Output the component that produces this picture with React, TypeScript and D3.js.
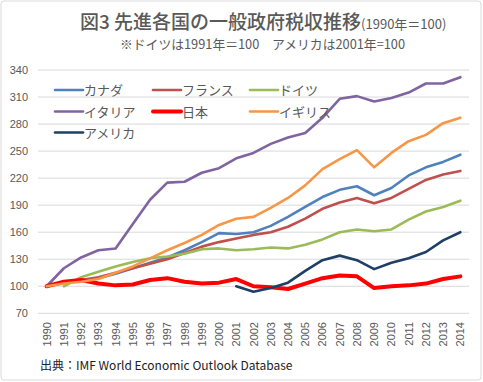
import React from "react";
import * as d3 from "d3";

const years = d3.range(1990, 2015).map(String);
const yTicks = [70, 100, 130, 160, 190, 220, 250, 280, 310, 340];

const canada = [100, 104, 106, 109, 114, 120, 126, 132, 140, 149, 159, 158, 160, 167, 177, 188, 199, 207, 211, 201, 209, 223, 232, 238, 246];
const france = [100, 105, 107, 110, 115, 120, 125, 130, 137, 144, 149, 153, 157, 160, 166, 175, 186, 193, 198, 192, 198, 208, 218, 224, 228];
const germany = [null, 100, 110, 116, 122, 127, 131, 133, 136, 141, 142, 140, 141, 143, 142, 146, 152, 160, 163, 161, 163, 174, 183, 188, 195];
const italy = [100, 120, 132, 140, 142, 169, 196, 215, 216, 226, 231, 242, 248, 258, 265, 270, 287, 308, 311, 305, 309, 315, 325, 325, 332];
const japan = [100, 105, 107, 103, 101, 102, 107, 109, 105, 103, 104, 108, 100, 99, 97, 103, 109, 112, 111, 98, 100, 101, 103, 108, 111];
const uk = [100, 103, 105, 108, 115, 122, 131, 140, 148, 157, 168, 175, 177, 187, 198, 212, 230, 241, 251, 232, 248, 261, 268, 281, 287];
const usa = [null, null, null, null, null, null, null, null, null, null, null, 100, 94, 98, 104, 117, 129, 134, 129, 119, 126, 131, 138, 151, 160];

type Series = { name: string; values: (number | null)[]; color: string; width: number };
const series: Series[] = [
  { name: "カナダ", values: canada, color: "#4F81BD", width: 2.6 },
  { name: "フランス", values: france, color: "#C0504D", width: 2.6 },
  { name: "ドイツ", values: germany, color: "#9BBB59", width: 2.6 },
  { name: "イタリア", values: italy, color: "#8064A2", width: 2.6 },
  { name: "日本", values: japan, color: "#FF0000", width: 4 },
  { name: "イギリス", values: uk, color: "#F79646", width: 2.6 },
  { name: "アメリカ", values: usa, color: "#1F3F66", width: 2.6 },
];

const W = 483;
const H = 382;
const left = 38;
const right = 469;
const top = 70;
const bottom = 313.3;

export default function App() {
  const x = d3.scaleBand<string>().domain(years).range([left, right]).padding(0);
  const y = d3.scaleLinear().domain([70, 340]).range([bottom, top]);
  const cx = (yr: string) => (x(yr) as number) + x.bandwidth() / 2;
  const line = d3
    .line<number | null>()
    .defined((d) => d !== null)
    .x((_, i) => cx(years[i]))
    .y((d) => y(d as number));

  const font = "'Noto Sans CJK JP', 'Liberation Sans', Arial, sans-serif";
  const txt = "#595959";

  const legendCols = [55, 153, 250];
  const legendRows = [90, 111.5, 132.5];

  return (
    <svg
      width={W}
      height={H}
      style={{ position: "absolute", left: 0, top: 0, background: "#fff" }}
      fontFamily={font}
    >
      <rect x={1} y={1} width={480} height={379} rx={3} fill="#fff" stroke="#d9d9d9" />
      <text x={80} y={29} fill={txt} fontSize={19} fontWeight={500}>
        図3 先進各国の一般政府税収推移
        <tspan fontSize={13} fontWeight={400}>(1990年＝100)</tspan>
      </text>
      <text x={120} y={49} fill={txt} fontSize={12.8}>
        ※ドイツは1991年＝100　アメリカは2001年=100
      </text>
      {yTicks.map((t) => (
        <g key={t}>
          <line x1={left} x2={right} y1={y(t)} y2={y(t)} stroke="#d9d9d9" strokeWidth={1} />
          <text x={28} y={y(t) + 4} textAnchor="end" fontSize={11} fill={txt} fontFamily="'Liberation Sans', Arial, sans-serif">
            {t}
          </text>
        </g>
      ))}
      {years.map((yr) => (
        <text
          key={yr}
          transform={`translate(${cx(yr) + 4},${322}) rotate(-90)`}
          textAnchor="end"
          fontSize={11}
          fill={txt}
          fontFamily="'Liberation Sans', Arial, sans-serif"
        >
          {yr}
        </text>
      ))}
      {series.map((s) => (
        <path
          key={s.name}
          d={line(s.values) || ""}
          fill="none"
          stroke={s.color}
          strokeWidth={s.width}
          strokeLinejoin="round"
          strokeLinecap="round"
        />
      ))}
      {series.map((s, i) => {
        const col = i % 3;
        const row = Math.floor(i / 3);
        const lx = legendCols[col];
        const ly = legendRows[row];
        return (
          <g key={s.name}>
            <line x1={lx} x2={lx + 28} y1={ly} y2={ly} stroke={s.color} strokeWidth={s.width} strokeLinecap="round" />
            <text x={lx + 29} y={ly + 5} fontSize={13} fill={txt}>
              {s.name}
            </text>
          </g>
        );
      })}
      <text x={40} y={370} fontSize={12} fill="#222">
        出典：IMF World Economic Outlook Database
      </text>
    </svg>
  );
}
